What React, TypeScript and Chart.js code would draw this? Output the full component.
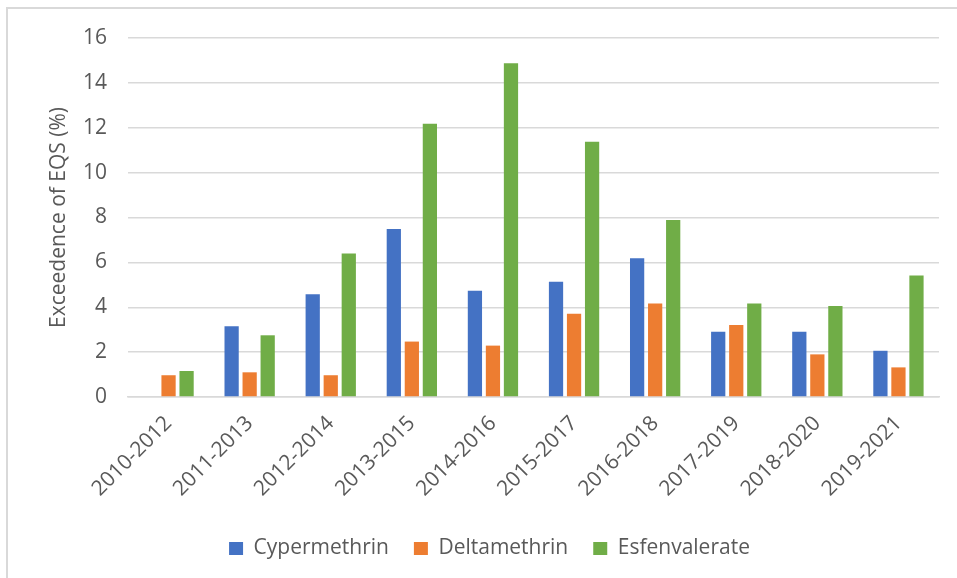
import React, { useEffect, useRef } from "react";
import { Chart, registerables } from "chart.js";

Chart.register(...registerables);

const categories = [
  "2010-2012", "2011-2013", "2012-2014", "2013-2015", "2014-2016",
  "2015-2017", "2016-2018", "2017-2019", "2018-2020", "2019-2021",
];
const cypermethrin = [0, 3.15, 4.58, 7.49, 4.74, 5.14, 6.18, 2.91, 2.91, 2.06];
const deltamethrin = [0.97, 1.1, 0.97, 2.47, 2.29, 3.71, 4.17, 3.21, 1.9, 1.32];
const esfenvalerate = [1.16, 2.75, 6.4, 12.18, 14.87, 11.38, 7.89, 4.17, 4.06, 5.42];
const yTicks = [0, 2, 4, 6, 8, 10, 12, 14, 16];

const FONT = "'Open Sans', 'Noto Sans', sans-serif";
const TEXT = "#595959";
const GRID = "#d9d9d9";

export default function App() {
  const ref = useRef<HTMLCanvasElement | null>(null);

  useEffect(() => {
    if (!ref.current) return;
    const chart = new Chart(ref.current, {
      type: "bar",
      data: {
        labels: categories,
        datasets: [
          { label: "Cypermethrin", data: cypermethrin, backgroundColor: "#4472C4" },
          { label: "Deltamethrin", data: deltamethrin, backgroundColor: "#ED7D31" },
          { label: "Esfenvalerate", data: esfenvalerate, backgroundColor: "#70AD47" },
        ],
      },
      options: {
        animation: false,
        responsive: false,
        maintainAspectRatio: false,
        datasets: {
          bar: { barPercentage: 0.79, categoryPercentage: 0.667 },
        },
        layout: { padding: { left: 40, right: 18, top: 38, bottom: 9 } },
        plugins: {
          tooltip: { enabled: false },
          legend: {
            position: "bottom",
            labels: {
              color: TEXT,
              font: { family: FONT, size: 21 },
              boxWidth: 14,
              boxHeight: 13,
              padding: 25,
            },
          },
        },
        scales: {
          x: {
            grid: { display: false },
            border: { display: true, color: GRID, width: 1.5 },
            ticks: {
              color: TEXT,
              font: { family: FONT, size: 21 },
              maxRotation: 45,
              minRotation: 45,
              autoSkip: false,
              padding: 6,
            },
            afterFit: (s: any) => {
              s.height = 116;
            },
          },
          y: {
            min: 0,
            max: 16,
            afterBuildTicks: (s: any) => {
              s.ticks = yTicks.map((v) => ({ value: v }));
            },
            grid: { color: GRID, lineWidth: 1.5, drawTicks: false },
            border: { display: false },
            ticks: {
              color: TEXT,
              font: { family: FONT, size: 21 },
              padding: 21,
            },
            title: {
              display: true,
              text: "Exceedence of EQS (%)",
              color: TEXT,
              font: { family: FONT, size: 21 },
              padding: { top: 6, bottom: 0 },
            },
            afterFit: (s: any) => {
              s.width = 88;
            },
          },
        },
      },
    });
    return () => chart.destroy();
  }, []);

  return (
    <div
      style={{
        position: "fixed",
        left: 0,
        top: 0,
        width: 957,
        height: 578,
        overflow: "hidden",
        background: "#fff",
      }}
    >
      <div
        style={{
          position: "absolute",
          left: 6,
          top: 7,
          width: 1000,
          height: 1000,
          border: `2px solid ${GRID}`,
        }}
      />
      <canvas
        ref={ref}
        width={957}
        height={578}
        style={{ position: "absolute", left: 0, top: 0 }}
      />
    </div>
  );
}
